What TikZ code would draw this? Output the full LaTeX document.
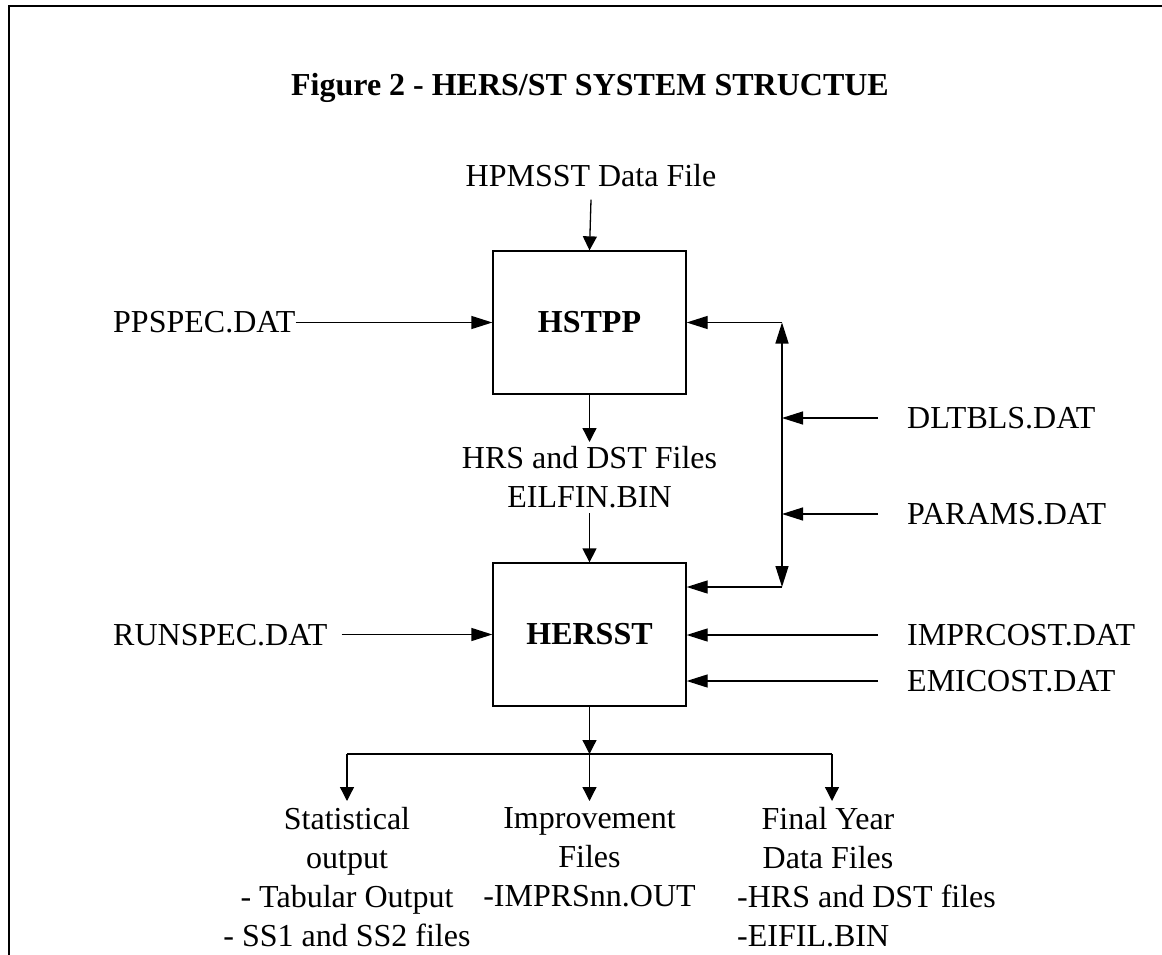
\documentclass[tikz,border=0pt]{standalone}
\usepackage{fontspec}
\setmainfont{Liberation Serif}
\usetikzlibrary{arrows.meta}
\begin{document}
\begin{tikzpicture}[x=1pt,y=-1pt,
  every node/.style={font=\fontsize{32}{39}\selectfont, inner sep=0pt},
  line/.style={line width=1.3pt},
  arrL/.style={line width=1.3pt,-{Triangle[length=21pt,width=13pt]}},
  arrS/.style={line width=1.3pt,-{Triangle[length=14pt,width=14pt]}},
  procbox/.style={draw, line width=1.3pt, minimum width=193pt, minimum height=143pt, font=\fontsize{32}{39}\selectfont\bfseries},
  txt/.style={text height=21pt, text depth=0pt},
  col/.style={align=center, inner sep=6pt, anchor=north}
]
\useasboundingbox (0,0) rectangle (1162,955);
% frame (open at bottom and right)
\draw[line width=2pt] (8.5,955) -- (8.5,6) -- (1162,6);

\node[txt, font=\fontsize{32}{39}\selectfont\bfseries] (title) at (590,85) {Figure 2 - HERS/ST SYSTEM STRUCTUE};
\node[txt] (hpmsst) at (591,176) {HPMSST Data File};

\node[procbox] (hstpp) at (589.5,322.5) {HSTPP};
\node[procbox] (hersst) at (589.5,634.5) {HERSST};

\node[align=center, inner sep=4.5pt, anchor=north] (hrs) at (589.5,442) {HRS and DST Files\\EILFIN.BIN};

\node[txt, anchor=west] (ppspec) at (113,322) {PPSPEC.DAT};
\node[txt, anchor=west] (runspec) at (113,635) {RUNSPEC.DAT};

\node[txt, anchor=west] (dltbls) at (907,418) {DLTBLS.DAT};
\node[txt, anchor=west] (params) at (907,514) {PARAMS.DAT};
\node[txt, anchor=west] (imprcost) at (907,635) {IMPRCOST.DAT};
\node[txt, anchor=west] (emicost) at (907,681) {EMICOST.DAT};

\coordinate (bt) at (782,322.5);
\coordinate (bb) at (782,587);
\coordinate (split) at (589.5,754);
\coordinate (sl) at (347,754);
\coordinate (sr) at (832,754);

\node[col] (stat) at (347,801) {Statistical\\output\\- Tabular Output\\- SS1 and SS2 files};
\node[col] (impr) at (589.5,801) {Improvement\\Files\\-IMPRSnn.OUT};
\node[col] (fy) at (828,801) {Final Year\\Data Files};
\node[align=left, anchor=north west] (fyl) at (737,{801+6+78}) {-HRS and DST files\\-EIFIL.BIN};

% connectors
\draw[arrS] (hpmsst.south) ++(0,13) -- (hstpp.north);
\draw[arrL] (ppspec.east |- hstpp.west) -- (hstpp.west);
\draw[arrS] (hstpp.south) -- (hrs.north);
\draw[arrS] (hrs.south) -- (hersst.north);
\draw[arrL] ([xshift=14pt]runspec.east |- hersst.west) -- (hersst.west);

\draw[arrL] (bt) -- (hstpp.east |- bt);
\draw[line width=1.3pt,{Triangle[length=21pt,width=13pt]}-{Triangle[length=21pt,width=13pt]}] (bt) -- (bb);
\draw[arrL] (bb) -- (hersst.east |- bb);
\draw[arrL] ([xshift=-29pt]dltbls.west) -- (bt |- dltbls.west);
\draw[arrL] ([xshift=-29pt]params.west) -- (bt |- params.west);
\draw[arrL] ([xshift=-29pt]imprcost.west) -- (hersst.east |- imprcost.west);
\draw[arrL] ([xshift=-29pt]emicost.west) -- (hersst.east |- emicost.west);

\draw[arrS] (hersst.south) -- (split);
\draw[line] (sl) -- (sr);
\draw[arrS] (sl) -- (stat.north);
\draw[arrS] (split) -- (impr.north);
\draw[arrS] (sr) -- (sr |- fy.north);
\end{tikzpicture}
\end{document}
